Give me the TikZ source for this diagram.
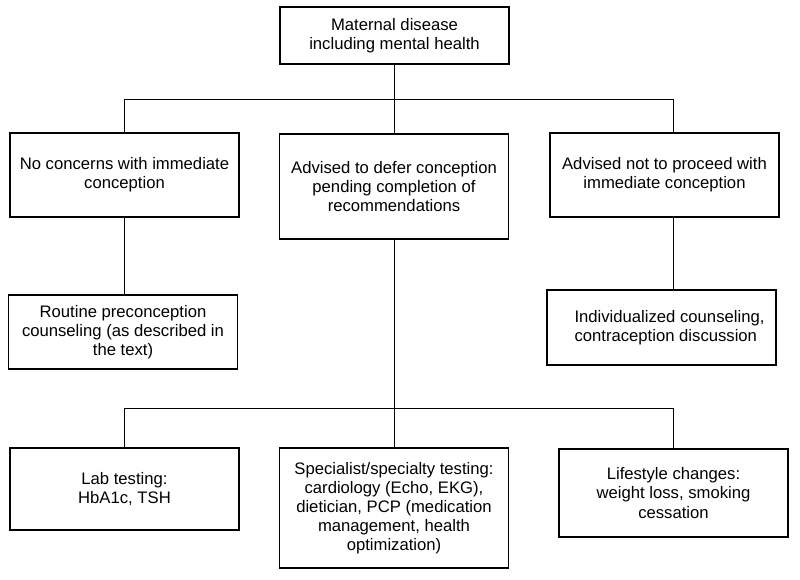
\documentclass[tikz,border=0pt]{standalone}
\usepackage{fontspec}
\setmainfont{Liberation Sans}
\usetikzlibrary{positioning}

\begin{document}
\begin{tikzpicture}[x=0.75pt, y=-0.75pt,
  box/.style={draw, line width=1.2pt, minimum width=171.75pt, align=center, inner sep=2pt, font=\fontsize{12.5pt}{14.3pt}\selectfont},
  wire/.style={line width=0.7pt}]
  \useasboundingbox (0,0) rectangle (800,579);
  \draw (394.5,35.5) node[box, minimum height=42.75pt] (top) {Maternal disease\\including mental health};
  \draw (124.5,175) node[box, minimum height=63pt] (none) {No concerns with immediate\\conception};
  \draw (394,186.5) node[box, minimum height=78.75pt] (defer) {Advised to defer conception\\pending completion of\\recommendations};
  \draw (664.5,175) node[box, minimum height=63pt] (notnow) {Advised not to proceed with\\immediate conception};
  \draw (123,332) node[box, minimum height=55.5pt] (routine) {Routine preconception\\counseling (as described in\\the text)};
  \draw (661.5,327.5) node[box, minimum height=56.25pt, align=left] (indiv) {\hspace*{12pt}Individualized counseling,\\\hspace*{12pt}contraception discussion};
  \draw (124.5,489) node[box, minimum height=61.5pt] (lab) {Lab testing:\\HbA1c, TSH};
  \draw (394,508) node[box, minimum height=90pt] (spec) {Specialist/specialty testing:\\cardiology (Echo, EKG),\\dietician, PCP (medication\\management, health\\optimization)};
  \draw (673.5,493) node[box, minimum height=66pt] (life) {Lifestyle changes:\\weight loss, smoking\\cessation};
  \coordinate (j1) at (394,99);
  \coordinate (j1l) at (124,99);
  \coordinate (j1r) at (673,99);
  \coordinate (j2) at (394,408);
  \coordinate (j2l) at (124,408);
  \coordinate (j2r) at (673,408);
  \draw[wire] (j1 |- top.south) -- (j1);
  \draw[wire] (j1l) -- (j1r);
  \draw[wire] (j1l) -- (j1l |- none.north);
  \draw[wire] (j1) -- (defer.north);
  \draw[wire] (j1r) -- (j1r |- notnow.north);
  \draw[wire] (j1l |- none.south) -- (j1l |- routine.north);
  \draw[wire] (j1r |- notnow.south) -- (j1r |- indiv.north);
  \draw[wire] (defer.south) -- (j2);
  \draw[wire] (j2l) -- (j2r);
  \draw[wire] (j2l) -- (j2l |- lab.north);
  \draw[wire] (j2) -- (spec.north);
  \draw[wire] (j2r) -- (j2r |- life.north);
\end{tikzpicture}
\end{document}
